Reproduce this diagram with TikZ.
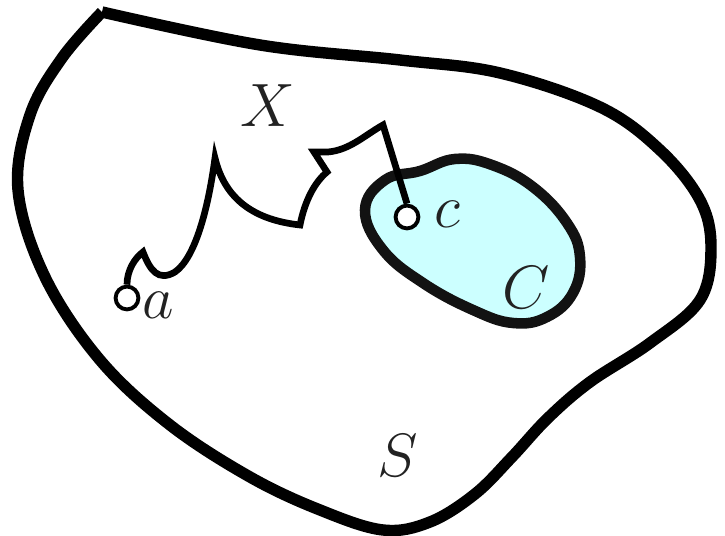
\documentclass[tikz,border=0pt]{standalone}
\usetikzlibrary{positioning}
\definecolor{cfill}{RGB}{204,255,255}
\definecolor{ink}{RGB}{34,34,34}

\begin{document}
\begin{tikzpicture}[x=0.02cm,y=-0.02cm,
    region/.style={line width=6.5pt,line join=round},
    subregion/.style={line width=6pt,draw=black!93,fill=cfill,line join=round},
    route/.style={line width=3.8pt,line join=miter},
    endpt/.style={circle,draw,fill=white,line width=2.2pt,minimum size=13pt,inner sep=0pt},
    lbl/.style={font=\fontsize{24.88}{30}\selectfont,text=ink,inner sep=0pt,scale=1.4,transform shape},
]
\useasboundingbox (0,0) rectangle (725,536);
% the space S, with a corner at the top left
\draw[region] plot[smooth,tension=0.6] coordinates {
  (102,12) (260,45) (400,60) (500,73) (600,107) (660,150) (700,200) (711,247)
  (700,300) (650,343) (590,382) (548,418) (512,457) (475,494) (430,522) (383,530)
  (320,510) (250,477) (170,425) (100,360) (45,277) (18,190) (30,115) (62,58) (102,12)};
% the component C
\draw[subregion] plot[smooth cycle,tension=0.7] coordinates {
  (365,210) (385,180) (420,171) (455,159) (492,165) (533,187) (567,223) (580,257)
  (573,293) (547,317) (513,323) (473,310) (423,283) (383,250)};
% end points
\node[endpt] (pa) at (127,298) {};
\node[endpt] (pc) at (407,217) {};
% path from a to c
\draw[route] (pa.north) .. controls (127,270) and (135,258) .. (143,252)
  .. controls (150,270) and (158,282) .. (175,272)
  .. controls (195,258) and (208,210) .. (215,158)
  .. controls (225,200) and (255,220) .. (300,225)
  .. controls (305,200) and (315,182) .. (327,172)
  -- (314,152) -- (328,152)
  .. controls (350,150) and (365,135) .. (383,125) -- (pc.north);
% labels
\node[lbl] (lx) at (268,106) {$X$};
\node[lbl] (la) at (158,305) {$a$};
\node[lbl] (lc) at (447,214) {$c$};
\node[lbl] (lC) at (526,288) {$C$};
\node[lbl] (lS) at (398,456) {$S$};
\end{tikzpicture}
\end{document}
